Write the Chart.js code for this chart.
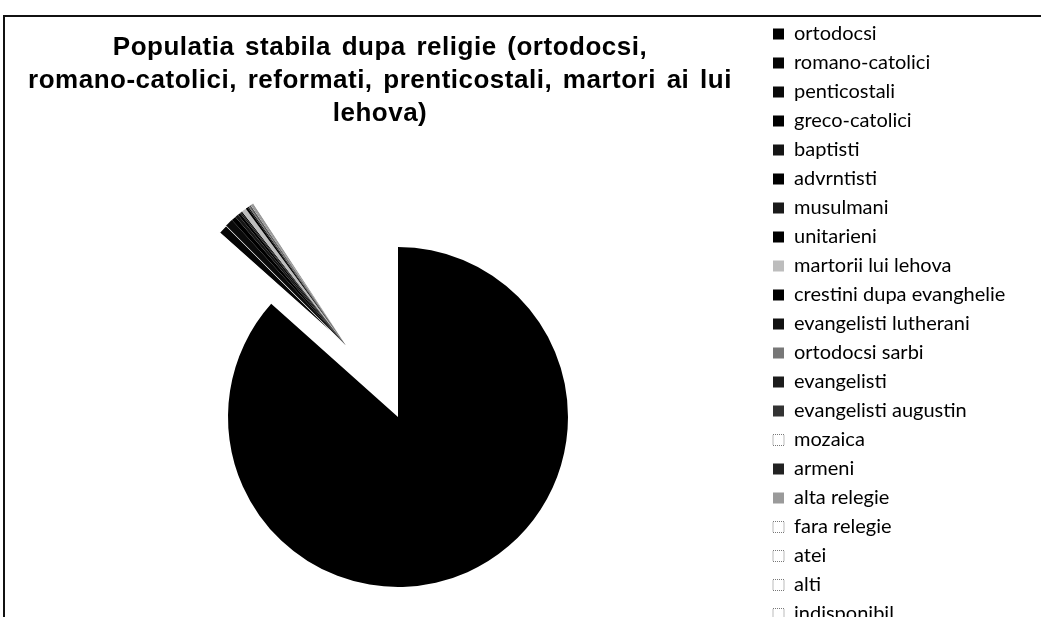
<!DOCTYPE html>
<html>
<head>
<meta charset="utf-8">
<script src="https://cdn.jsdelivr.net/npm/chart.js@4.4.1/dist/chart.umd.min.js"></script>
<style>
  html, body { margin: 0; padding: 0; background: #fff; overflow: hidden; }
  #wrap { position: relative; width: 1041px; height: 617px; overflow: hidden; }
  #frame { position: absolute; left: 3px; top: 15px; width: 1100px; height: 600px;
           border-left: 2px solid #111; border-top: 2px solid #111; border-bottom: 1px solid #bbb; }
  canvas { position: absolute; left: 0; top: 0; }
</style>
</head>
<body>
<div id="wrap">
  <div id="frame"></div>
  <canvas id="religionChart" width="1041" height="720"></canvas>
</div>
<script>
// data (percent of stable population)
var titleLines = ['Populatia stabila dupa religie (ortodocsi,',
                  'romano-catolici, reformati, prenticostali, martori ai lui',
                  'lehova)'];
var categories = ['ortodocsi', 'romano-catolici', 'penticostali', 'greco-catolici', 'baptisti',
                  'advrntisti', 'musulmani', 'unitarieni', 'martorii lui lehova',
                  'crestini dupa evanghelie', 'evangelisti lutherani', 'ortodocsi sarbi',
                  'evangelisti', 'evangelisti augustin', 'mozaica', 'armeni', 'alta relegie',
                  'fara relegie', 'atei', 'alti', 'indisponibil'];
var values = [86.6, 0.9, 0.75, 0.45, 0.3,
              0.25, 0.12, 0.12, 0.45,
              0.2, 0.12, 0.12,
              0.06, 0.06, 0.04, 0.04, 0.2,
              0.1, 0.05, 0.1, 8.97];
var sliceColors = ['#000', '#050505', '#0a0a0a', '#000', '#151515',
                   '#000', '#1a1a1a', '#000', '#bdbdbd',
                   '#000', '#111', '#777',
                   '#1c1c1c', '#333', '#fff', '#222', '#9a9a9a',
                   '#fff', '#fff', '#fff', '#fff'];
var outlined = ['mozaica', 'fara relegie', 'atei', 'alti', 'indisponibil'];

// every slice after the first is pulled out of the pie together, like the scan
var explodePlugin = {
    id: 'explode',
    beforeDatasetDraw: function(chart, args, opts) {
        var ctx = chart.ctx;
        var a = opts.angle * Math.PI / 180;
        var dx = Math.sin(a) * opts.distance, dy = -Math.cos(a) * opts.distance;
        args.meta.data.forEach(function(arc, i) {
            ctx.save();
            if (i > 0) ctx.translate(dx, dy);
            arc.draw(ctx, chart.chartArea);
            ctx.restore();
        });
        return false;
    }
};

// title sits a bit left of the pie and is set a little wider
var titleTweak = {
    id: 'titleTweak',
    afterLayout: function(chart, args, opts) {
        var t = chart.titleBlock;
        t.left -= opts.shift * 2;
        t.width = t.right - t.left;
        if (!t._spaced) {
            var draw = t.draw;
            t.draw = function(area) {
                var c = this.ctx;
                c.save();
                c.letterSpacing = opts.letterSpacing;
                c.wordSpacing = opts.wordSpacing;
                draw.call(this, area);
                c.restore();
            };
            t._spaced = true;
        }
    }
};

window.onload = function() {
    var legendFontSize = 20;
    var ctx = document.getElementById('religionChart').getContext('2d');

    // size the right side so the legend boxes start near x=773
    ctx.font = legendFontSize + 'px Lato';
    var widest = 0;
    categories.forEach(function(c) { widest = Math.max(widest, ctx.measureText(c).width); });
    var legendWidth = 9 + 11 + legendFontSize / 2 + widest + 10;
    var padRight = Math.max(0, 1041 - 764 - legendWidth);

    new Chart(ctx, {
        type: 'pie',
        data: {
            labels: categories,
            datasets: [{
                data: values,
                backgroundColor: sliceColors,
                borderColor: '#fff',
                borderWidth: categories.map(function(c, i) { return i === 1 ? 1.2 : 0; }),
                radius: 170
            }]
        },
        plugins: [explodePlugin, titleTweak],
        options: {
            responsive: false,
            animation: false,
            events: [],
            layout: { padding: { left: 32, right: padRight, top: 15, bottom: 16.5 } },
            plugins: {
                explode: { distance: 88, angle: 324 },
                titleTweak: { shift: 18, letterSpacing: '0.5px', wordSpacing: '3px' },
                tooltip: { enabled: false },
                title: {
                    display: true,
                    fullSize: false,
                    text: titleLines,
                    color: '#000',
                    font: { family: 'Liberation Sans', size: 26, weight: 'bold', lineHeight: '33px' },
                    padding: { top: 16.5, bottom: 0 }
                },
                legend: {
                    position: 'right',
                    align: 'start',
                    labels: {
                        color: '#000',
                        font: { family: 'Lato', size: legendFontSize },
                        boxWidth: 11,
                        boxHeight: 11,
                        padding: 9,
                        generateLabels: function(chart) {
                            var items = Chart.controllers.pie.overrides.plugins.legend.labels.generateLabels(chart);
                            items.forEach(function(it) {
                                if (outlined.indexOf(it.text) >= 0) {
                                    it.strokeStyle = '#777';
                                    it.lineWidth = 1;
                                    it.lineDash = [1, 1];
                                } else {
                                    it.lineWidth = 0;
                                }
                            });
                            return items;
                        }
                    }
                }
            }
        }
    });
};
</script>
</body>
</html>
